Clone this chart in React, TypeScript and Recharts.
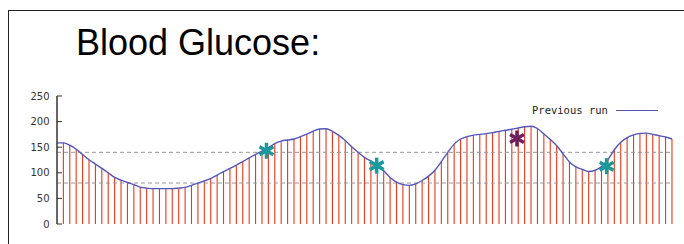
import {
    ComposedChart,
    Bar,
    Line,
    Scatter,
    XAxis,
    YAxis,
    ReferenceLine,
} from "recharts";

// glucose readings, one per sample (sample 0 sits on the y axis)
const glucose = [
    158.5, 158.5, 154, 146, 135.5, 125.5, 117, 108.5, 100, 91, 85.5, 81, 77, 72,
    70, 69, 69, 69, 69, 70, 71.5, 75.5, 80, 84, 89, 95.5, 102.5, 108.5, 115, 122,
    129, 136, 142.5, 149, 157, 162, 164, 166, 170.5, 175.5, 181.5, 185.5, 186,
    181, 173, 163, 151, 140, 130, 123, 115, 104, 91, 82, 77, 75.5, 78.5, 85, 93.5,
    105, 122, 140, 156, 166, 170.5, 173.5, 175, 176.5, 178.5, 181, 183, 185,
    187.5, 190, 191, 186.5, 176, 165, 153, 137, 121, 111.5, 106.5, 102.5, 105,
    112, 126, 145, 159.5, 168.5, 174, 177, 177.5, 175, 172.5, 170, 166,
];

// measured points (sample position, value)
const tealTimes = [32.7, 49.9, 85.8];
const tealValues = [143, 114, 113];
const purpleTimes = [71.8];
const purpleValues = [167];

const yTicks = [0, 50, 100, 150, 200, 250];
const thresholds = [140, 80];

const data = glucose.map((v, i) => ({ t: i, v, bar: i === 0 ? null : v }));
const teal = tealTimes.map((t, i) => ({ t, v: tealValues[i] }));
const purple = purpleTimes.map((t, i) => ({ t, v: purpleValues[i] }));

const asterisk = (color: string) => (props: any) => {
    const { cx, cy } = props;
    const r = 8;
    const arms = [90, 30, 150].map((deg) => {
        const a = (deg * Math.PI) / 180;
        return (
            <line
                key={deg}
                x1={cx - r * Math.cos(a)}
                y1={cy - r * Math.sin(a)}
                x2={cx + r * Math.cos(a)}
                y2={cy + r * Math.sin(a)}
                stroke={color}
                strokeWidth={3.5}
            />
        );
    });
    return <g>{arms}</g>;
};

// thin vertical stick centred on the bar slot
const stick = (props: any) => {
    const { x, y, width, height } = props;
    if (height == null || height <= 0) return <g />;
    const cx = x + width / 2;
    return <rect x={cx - 0.55} y={y} width={1.1} height={height} fill="#e8391b" />;
};

const App = () => {
    return (
        <div
            style={{
                position: "absolute",
                left: 0,
                top: 0,
                width: 684,
                height: 244,
                overflow: "hidden",
                background: "#fff",
            }}
        >
            <div
                style={{
                    position: "absolute",
                    left: 8,
                    top: 10,
                    width: 720,
                    height: 300,
                    borderLeft: "1px solid #222",
                    borderTop: "1px solid #222",
                }}
            />
            <div
                style={{
                    position: "absolute",
                    left: 76,
                    top: 25,
                    fontFamily: "Liberation Sans, Arial, sans-serif",
                    fontSize: 36,
                    lineHeight: "36px",
                    color: "#000",
                    whiteSpace: "nowrap",
                }}
            >
                Blood Glucose:
            </div>
            <div style={{ position: "absolute", left: 0, top: 0 }}>
                <ComposedChart
                    width={684}
                    height={244}
                    data={data}
                    margin={{ top: 96, right: 12, bottom: 20, left: 0 }}
                >
                    <XAxis
                        dataKey="t"
                        type="number"
                        domain={[0, 96]}
                        tick={false}
                        tickLine={false}
                        height={0}
                        axisLine={{ stroke: "#555" }}
                    />
                    <YAxis
                        width={57}
                        domain={[0, 250]}
                        ticks={yTicks}
                        tickSize={-5}
                        tickMargin={12.5}
                        axisLine={{ stroke: "#333", strokeWidth: 1.5 }}
                        tickLine={{ stroke: "#333" }}
                        tick={{ fill: "#333", fontSize: 10, fontFamily: "DejaVu Sans" }}
                    />
                    <Bar dataKey="bar" barSize={2} fill="#e8391b" shape={stick} isAnimationActive={false} />
                    {thresholds.map((y) => (
                        <ReferenceLine key={y} y={y} stroke="#999" strokeDasharray="4 3" />
                    ))}
                    <Line
                        dataKey="v"
                        type="monotone"
                        stroke="#5157bc"
                        strokeWidth={1.4}
                        dot={false}
                        isAnimationActive={false}
                    />
                    <Scatter data={teal} dataKey="v" shape={asterisk("#1a9a9a")} isAnimationActive={false} />
                    <Scatter data={purple} dataKey="v" shape={asterisk("#6e1f5e")} isAnimationActive={false} />
                </ComposedChart>
            </div>
            <div
                style={{
                    position: "absolute",
                    left: 532,
                    top: 104,
                    display: "flex",
                    alignItems: "center",
                    fontFamily: "DejaVu Sans Mono",
                    fontSize: 10.5,
                    color: "#222",
                    whiteSpace: "nowrap",
                }}
            >
                <span>Previous run</span>
                <span
                    style={{
                        display: "inline-block",
                        width: 42,
                        height: 0,
                        borderTop: "1.3px solid #5157bc",
                        marginLeft: 8,
                    }}
                />
            </div>
        </div>
    );
};

export default App;
